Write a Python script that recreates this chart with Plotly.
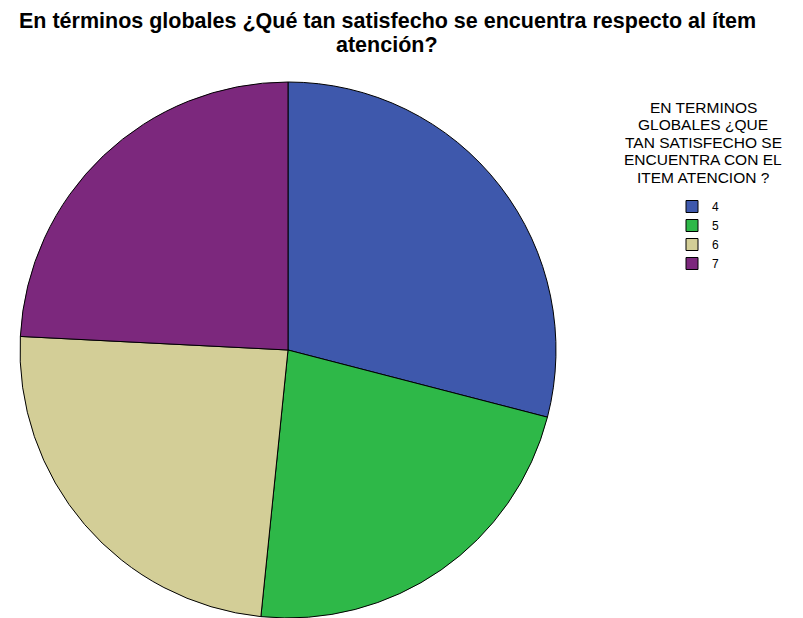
import plotly.graph_objects as go

# Respuestas a la pregunta de satisfacción global con la atención
categorias = ["4", "5", "6", "7"]
frecuencias = [36, 28, 30, 30]
colores = ["#3E58AC", "#2EB848", "#D3CE97", "#7C287D"]

titulo_lineas = [
    "En términos globales ¿Qué tan satisfecho se encuentra respecto al ítem",
    "atención?",
]
leyenda_lineas = [
    "EN TERMINOS",
    "GLOBALES ¿QUE",
    "TAN SATISFECHO SE",
    "ENCUENTRA CON EL",
    "ITEM ATENCION ?",
]

W, H = 803, 618
FONT = "Liberation Sans, Arial, sans-serif"

fig = go.Figure(
    go.Pie(
        labels=categorias,
        values=frecuencias,
        sort=False,
        direction="clockwise",
        rotation=0,
        marker=dict(colors=colores, line=dict(color="#000000", width=1)),
        textinfo="none",
        hoverinfo="label+value+percent",
        domain=dict(x=[20 / W, 556 / W], y=[0, 536 / H]),
    )
)

annotations = []
# Título en dos líneas con interlineado compacto
for texto, ypx in zip(titulo_lineas, [21, 45]):
    annotations.append(dict(
        text="<b>" + texto + "</b>", x=387 / W, y=1 - ypx / H,
        xref="paper", yref="paper", xanchor="center", yanchor="middle",
        showarrow=False, font=dict(family=FONT, size=21.5, color="#000000"),
    ))
# Título de la leyenda, una anotación por línea
for texto, ypx in zip(leyenda_lineas, [107, 124.5, 142, 159.5, 177]):
    annotations.append(dict(
        text=texto, x=703 / W, y=1 - ypx / H,
        xref="paper", yref="paper", xanchor="center", yanchor="middle",
        showarrow=False, font=dict(family=FONT, size=15.5, color="#000000"),
    ))

fig.update_layout(
    width=W,
    height=H,
    margin=dict(l=0, r=0, t=0, b=0),
    paper_bgcolor="#FFFFFF",
    plot_bgcolor="#FFFFFF",
    annotations=annotations,
    showlegend=True,
    legend=dict(
        x=672 / W, y=1 - 192 / H, xanchor="left", yanchor="top",
        font=dict(family=FONT, size=12, color="#000000"),
        bgcolor="rgba(0,0,0,0)", tracegroupgap=0,
    ),
)

fig.write_html("out.html")
